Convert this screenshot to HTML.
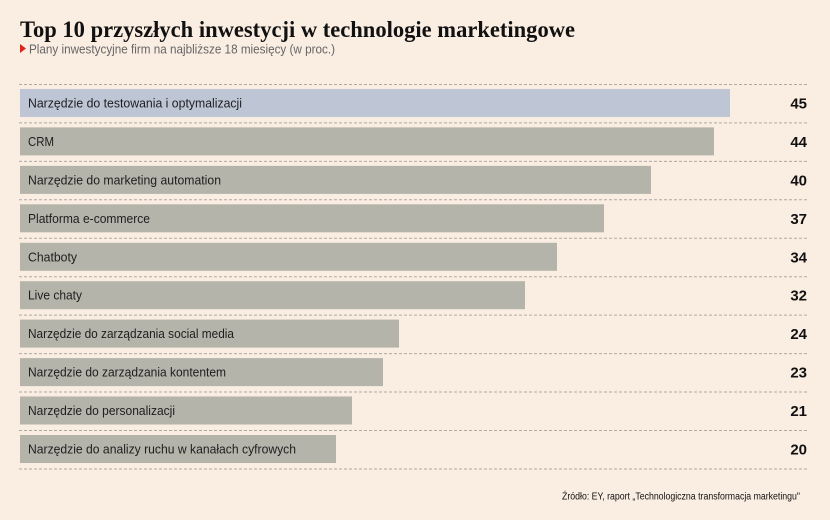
<!DOCTYPE html>
<html>
<head>
<meta charset="utf-8">
<style>
  html,body{margin:0;padding:0;background:#FAEDE2;}
  svg{display:block;}
</style>
</head>
<body>
<svg width="830" height="520" viewBox="0 0 830 520" xmlns="http://www.w3.org/2000/svg">
  <rect x="0" y="0" width="830" height="520" fill="#FAEDE2"/>
  <text x="20" y="37" font-family="'Liberation Serif', serif" font-weight="bold" font-size="23" fill="#111" textLength="555" lengthAdjust="spacingAndGlyphs">Top 10 przyszłych inwestycji w technologie marketingowe</text>
  <polygon points="20,44 26,48.5 20,53" fill="#E2231A"/>
  <text x="29" y="53.5" font-family="'Liberation Sans', sans-serif" font-size="12.5" fill="#666" textLength="306" lengthAdjust="spacingAndGlyphs">Plany inwestycyjne firm na najbliższe 18 miesięcy (w proc.)</text>

  <g stroke="#AFA9A3" stroke-width="1" stroke-dasharray="3,2">
    <line x1="19" y1="84.5" x2="807" y2="84.5"/>
    <line x1="19" y1="122.9" x2="807" y2="122.9"/>
    <line x1="19" y1="161.4" x2="807" y2="161.4"/>
    <line x1="19" y1="199.8" x2="807" y2="199.8"/>
    <line x1="19" y1="238.3" x2="807" y2="238.3"/>
    <line x1="19" y1="276.7" x2="807" y2="276.7"/>
    <line x1="19" y1="315.1" x2="807" y2="315.1"/>
    <line x1="19" y1="353.6" x2="807" y2="353.6"/>
    <line x1="19" y1="392" x2="807" y2="392"/>
    <line x1="19" y1="430.5" x2="807" y2="430.5"/>
    <line x1="19" y1="469" x2="807" y2="469"/>
  </g>

  <g>
    <rect x="20" y="89" width="710" height="28" fill="#BEC6D6"/>
    <rect x="20" y="127.4" width="694" height="28" fill="#B5B4AA"/>
    <rect x="20" y="165.9" width="631" height="28" fill="#B5B4AA"/>
    <rect x="20" y="204.3" width="584" height="28" fill="#B5B4AA"/>
    <rect x="20" y="242.8" width="537" height="28" fill="#B5B4AA"/>
    <rect x="20" y="281.2" width="505" height="28" fill="#B5B4AA"/>
    <rect x="20" y="319.6" width="379" height="28" fill="#B5B4AA"/>
    <rect x="20" y="358.1" width="363" height="28" fill="#B5B4AA"/>
    <rect x="20" y="396.5" width="332" height="28" fill="#B5B4AA"/>
    <rect x="20" y="435" width="316" height="28" fill="#B5B4AA"/>
  </g>

  <g font-family="'Liberation Sans', sans-serif" font-size="12.5" fill="#1E1E1E">
    <text x="28" y="107.5" textLength="214" lengthAdjust="spacingAndGlyphs">Narzędzie do testowania i optymalizacji</text>
    <text x="28" y="145.9" textLength="26" lengthAdjust="spacingAndGlyphs">CRM</text>
    <text x="28" y="184.4" textLength="193" lengthAdjust="spacingAndGlyphs">Narzędzie do marketing automation</text>
    <text x="28" y="222.8" textLength="122" lengthAdjust="spacingAndGlyphs">Platforma e-commerce</text>
    <text x="28" y="261.3" textLength="49" lengthAdjust="spacingAndGlyphs">Chatboty</text>
    <text x="28" y="299.7" textLength="54" lengthAdjust="spacingAndGlyphs">Live chaty</text>
    <text x="28" y="338.1" textLength="206" lengthAdjust="spacingAndGlyphs">Narzędzie do zarządzania social media</text>
    <text x="28" y="376.6" textLength="198" lengthAdjust="spacingAndGlyphs">Narzędzie do zarządzania kontentem</text>
    <text x="28" y="415" textLength="147" lengthAdjust="spacingAndGlyphs">Narzędzie do personalizacji</text>
    <text x="28" y="453.5" textLength="268" lengthAdjust="spacingAndGlyphs">Narzędzie do analizy ruchu w kanałach cyfrowych</text>
  </g>

  <g font-family="'Liberation Sans', sans-serif" font-weight="bold" font-size="15" fill="#111" text-anchor="end">
    <text x="807" y="108.5">45</text>
    <text x="807" y="146.9">44</text>
    <text x="807" y="185.4">40</text>
    <text x="807" y="223.8">37</text>
    <text x="807" y="262.3">34</text>
    <text x="807" y="300.7">32</text>
    <text x="807" y="339.1">24</text>
    <text x="807" y="377.6">23</text>
    <text x="807" y="416">21</text>
    <text x="807" y="454.5">20</text>
  </g>

  <text x="562" y="499.5" font-family="'Liberation Sans', sans-serif" font-size="10" fill="#111" textLength="238" lengthAdjust="spacingAndGlyphs">Źródło: EY, raport „Technologiczna transformacja marketingu"</text>
</svg>
</body>
</html>
